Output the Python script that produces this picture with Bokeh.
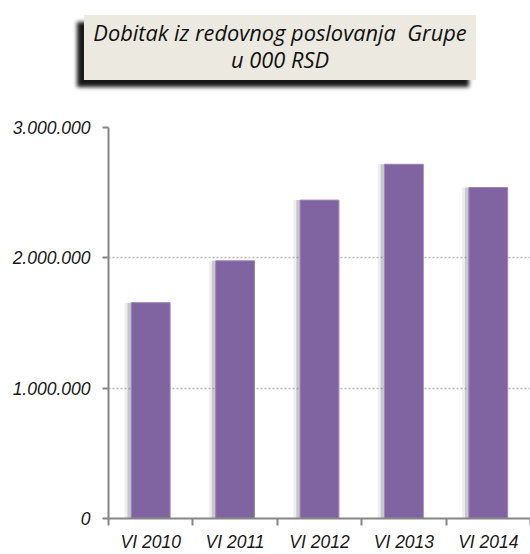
from bokeh.plotting import figure
from bokeh.models import (Range1d, LinearAxis, FixedTicker, ColumnDataSource, Grid, Div)
from bokeh.layouts import column
from bokeh.transform import dodge
from bokeh.embed import file_html
from bokeh.resources import INLINE

categories = ["VI 2010", "VI 2011", "VI 2012", "VI 2013", "VI 2014"]
profit = [1656000, 1977000, 2443000, 2718000, 2540000]
y_ticks = [0, 1000000, 2000000, 3000000]
title_lines = ["Dobitak iz redovnog poslovanja&nbsp; Grupe", "u 000 RSD"]

AXIS_FONT = "Liberation Sans"
BAR_COLOR = "#8064A2"
AXIS_COLOR = "#868686"

n = len(categories)
centers = [i + 0.5 for i in range(n)]
src = ColumnDataSource(dict(x=centers, cat=categories, val=profit))

# ---- title box (HTML, with drop shadow) ----
box_html = (
    '<div style="position:relative; left:84px; top:15px; width:392px; height:65px; '
    'box-sizing:border-box; padding-top:4px; background:#ECEAE0; '
    'box-shadow:-7px 7px 4px rgba(0,0,0,0.9); font-family:\'Open Sans\', sans-serif; '
    'font-style:italic; font-size:21.8px; line-height:27px; text-align:center; color:#111;">'
    + "<br>".join(title_lines) + "</div>"
)
title_div = Div(text=box_html, width=530, height=100, margin=0)

# ---- chart ----
p = figure(width=530, height=454,
           x_range=Range1d(0, n), y_range=Range1d(0, y_ticks[-1]),
           output_backend="svg", toolbar_location=None,
           x_axis_location=None, y_axis_location=None,
           min_border_left=108, min_border_right=0,
           min_border_top=27, min_border_bottom=34, margin=0)
p.outline_line_color = None
p.grid.visible = False
p.background_fill_color = "white"
p.border_fill_color = "white"

grid = Grid(dimension=1, ticker=FixedTicker(ticks=y_ticks),
            grid_line_color="#bdbdbd", grid_line_dash="2 2", grid_line_width=1.5)
p.add_layout(grid)

# soft shadow on the left side of each bar, then the bars
p.vbar(x=dodge("x", -0.08), top="val", width=0.46, source=src,
       fill_color="#8a8a8a", fill_alpha=0.15, line_color=None)
p.vbar(x=dodge("x", -0.045), top="val", width=0.46, source=src,
       fill_color="#6f6f6f", fill_alpha=0.3, line_color=None)
p.vbar(x="x", top="val", width=0.46, source=src,
       fill_color=BAR_COLOR, line_color="#9c86bb", line_width=1)

# y axis
yaxis = LinearAxis(ticker=FixedTicker(ticks=y_ticks),
                   major_label_overrides={t: f"{t:,}".replace(",", ".") for t in y_ticks})
yaxis.axis_line_color = AXIS_COLOR
yaxis.axis_line_width = 2
yaxis.major_tick_line_color = AXIS_COLOR
yaxis.major_tick_line_width = 2
yaxis.major_tick_in = 0
yaxis.major_tick_out = 6
yaxis.minor_tick_line_color = None
yaxis.major_label_standoff = 12
yaxis.major_label_text_font = AXIS_FONT
yaxis.major_label_text_font_style = "italic"
yaxis.major_label_text_font_size = "17.5px"
yaxis.major_label_text_color = "#1a1a1a"
p.add_layout(yaxis, "left")

# x axis: labels at category centres, ticks at category boundaries
xaxis = LinearAxis(ticker=FixedTicker(ticks=centers, minor_ticks=list(range(n + 1))),
                   major_label_overrides={c: lab for c, lab in zip(centers, categories)})
xaxis.axis_line_color = AXIS_COLOR
xaxis.axis_line_width = 2
xaxis.major_tick_line_color = None
xaxis.major_tick_in = 0
xaxis.major_tick_out = 0
xaxis.minor_tick_line_color = AXIS_COLOR
xaxis.minor_tick_line_width = 2
xaxis.minor_tick_in = 0
xaxis.minor_tick_out = 7
xaxis.major_label_standoff = 6
xaxis.major_label_text_font = AXIS_FONT
xaxis.major_label_text_font_style = "italic"
xaxis.major_label_text_font_size = "17.5px"
xaxis.major_label_text_color = "#1a1a1a"
p.add_layout(xaxis, "below")

layout = column(title_div, p, spacing=0)
open("out.html", "w").write(file_html(layout, INLINE))
